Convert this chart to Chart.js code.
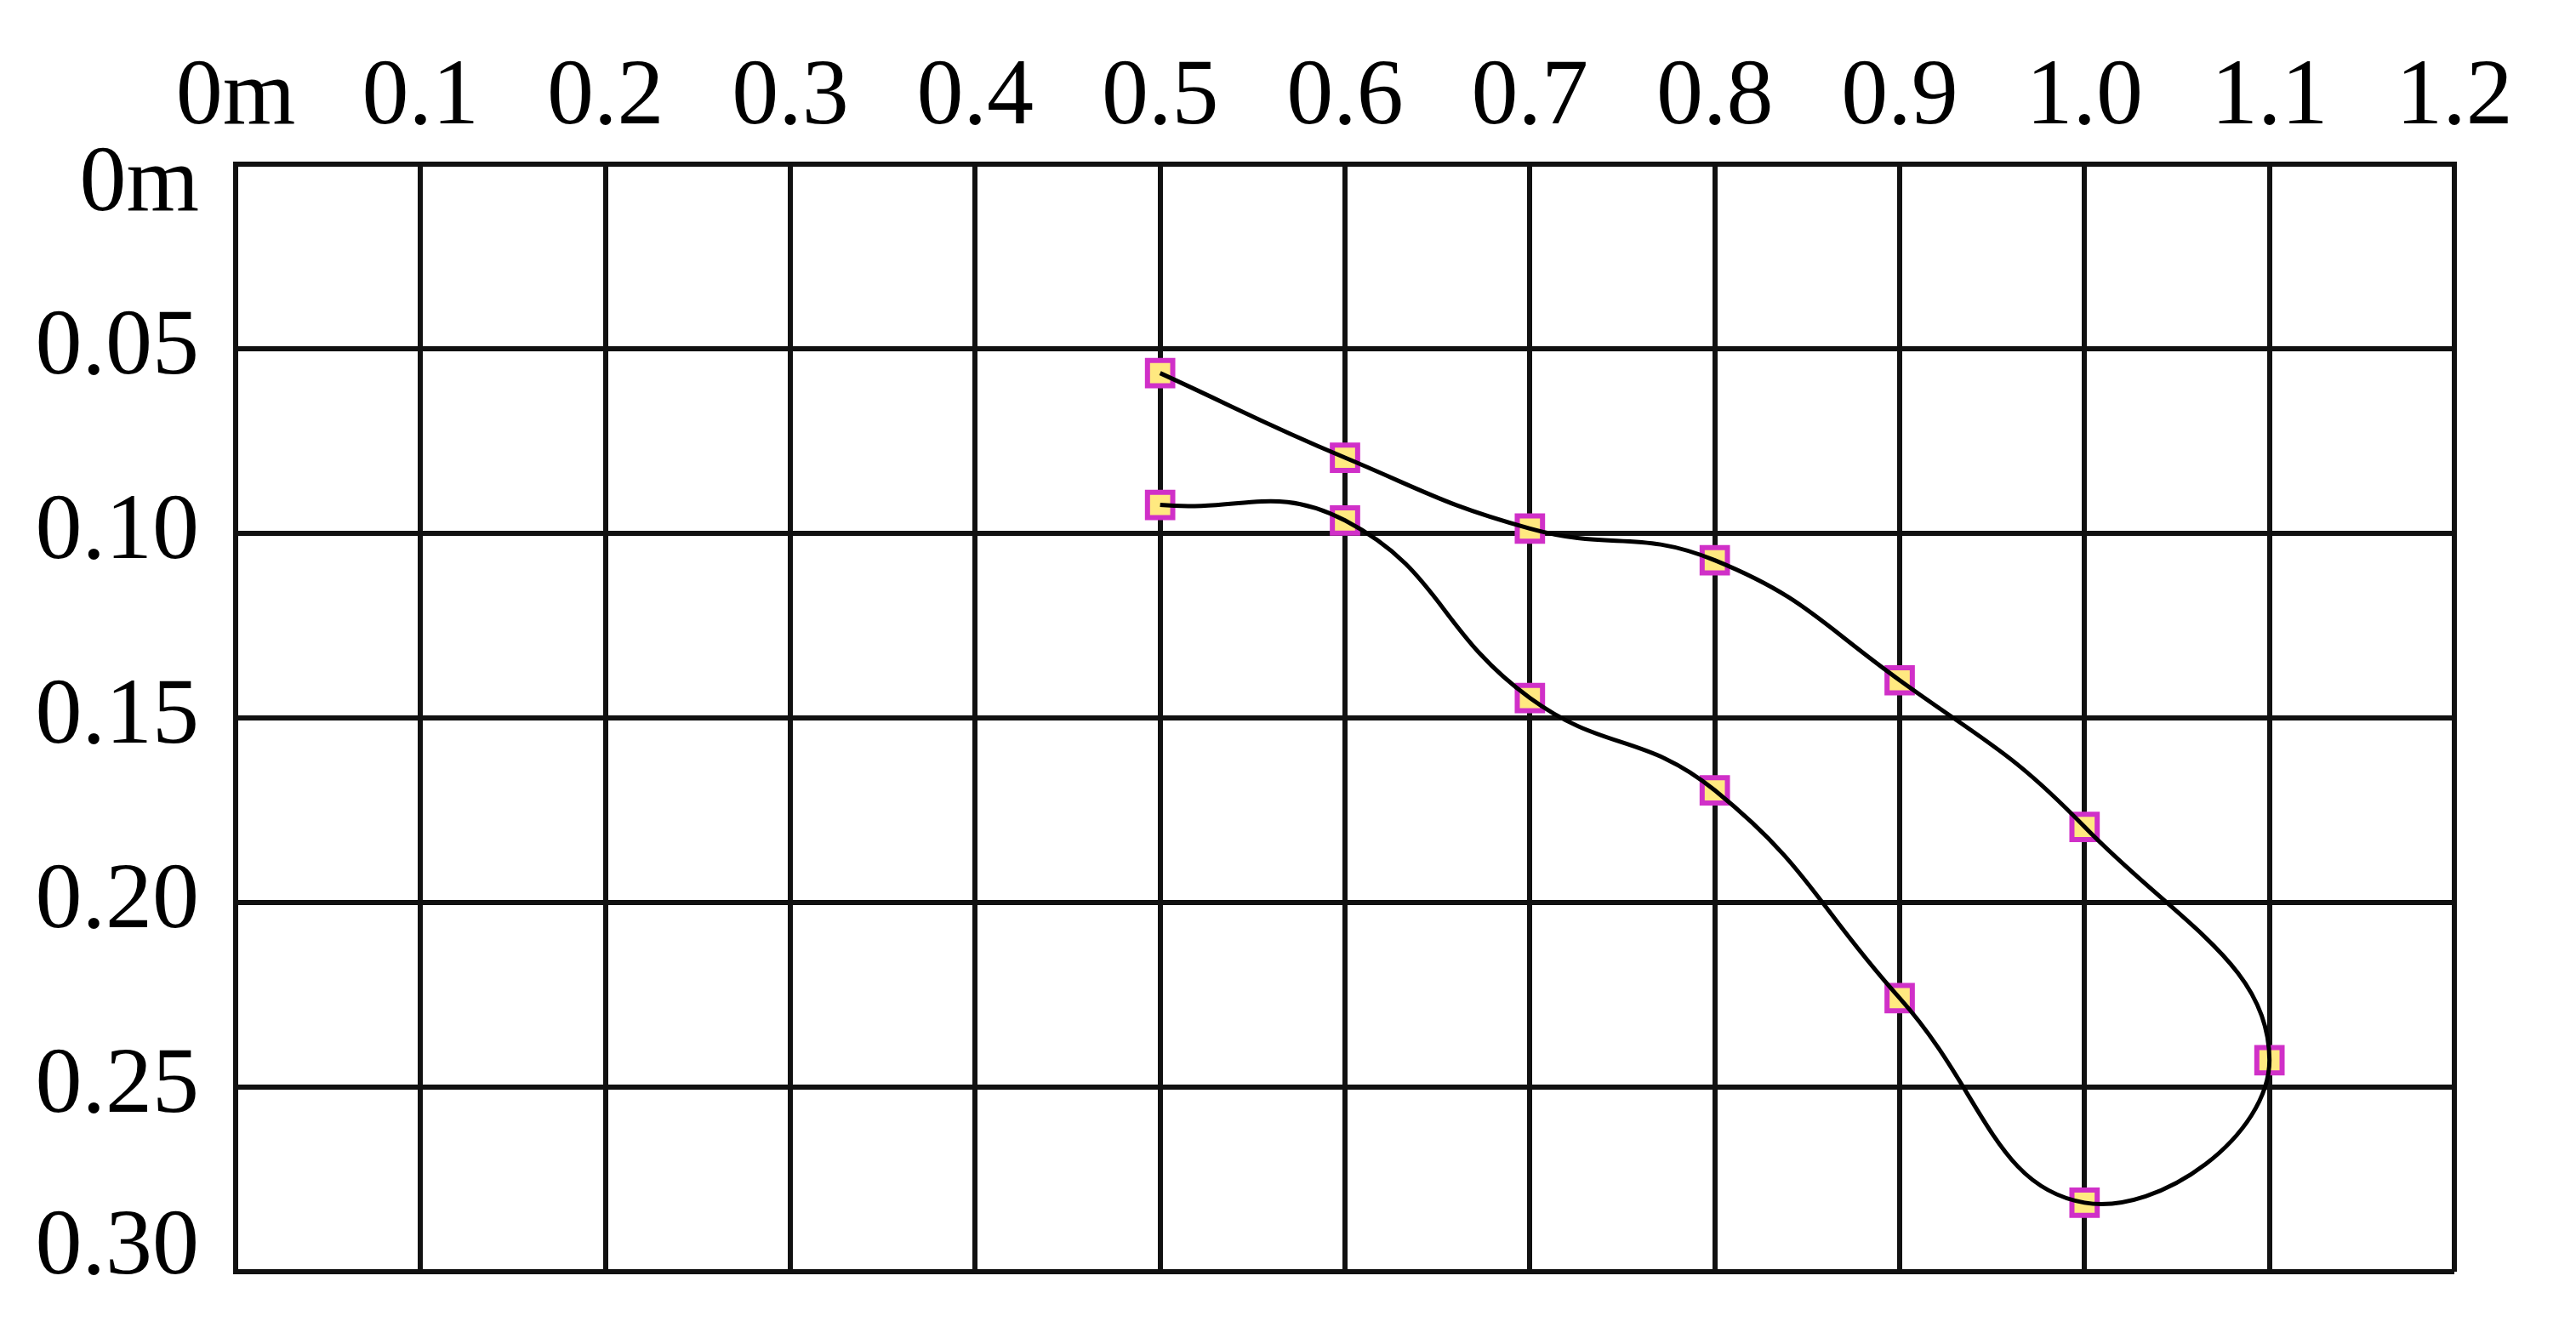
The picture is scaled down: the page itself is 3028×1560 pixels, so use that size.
<!DOCTYPE html>
<html>
<head>
<meta charset="utf-8">
<script src="https://cdn.jsdelivr.net/npm/chart.js@4/dist/chart.umd.min.js"></script>
<style>
  html, body { margin: 0; padding: 0; background: #fff; }
  #wrap { width: 3028px; height: 1560px; }
</style>
</head>
<body>
<div id="wrap">
  <canvas id="path-chart" width="3028" height="1560"></canvas>
</div>
<script>
  // tick labels
  const xTickLabels = ["0m", "0.1", "0.2", "0.3", "0.4", "0.5", "0.6", "0.7", "0.8", "0.9", "1.0", "1.1", "1.2"];
  const yTickLabels = ["0m", "0.05", "0.10", "0.15", "0.20", "0.25", "0.30"];

  // measured points, in the order the curve runs through them
  const pathX = [0.5, 0.6, 0.7, 0.8, 0.9, 1.0, 1.1, 1.0, 0.9, 0.8, 0.7, 0.6, 0.5];
  const pathY = [0.0566, 0.0795, 0.0987, 0.1073, 0.1398, 0.1795, 0.2427, 0.2813, 0.2259, 0.1696, 0.1446, 0.0965, 0.0923];

  const points = pathX.map((x, i) => ({ x: x, y: pathY[i] }));

  Chart.defaults.font.family = "'Liberation Serif', 'DejaVu Serif', serif";
  Chart.defaults.color = "#000";

  const gridColor = "#111";
  const lastY = yTickLabels.length - 1;

  // first and last y labels sit a little inside the plot, like the original
  function yLabel(v) {
    const i = Math.round(v / 0.05);
    if (i === 0) return ["", yTickLabels[i]];
    if (i === lastY) return [yTickLabels[i], ""];
    return yTickLabels[i];
  }
  function yFont(c) {
    const i = c.tick ? Math.round(c.tick.value / 0.05) : -1;
    if (i === 0) return { size: 110, lineHeight: "50px" };
    if (i === lastY) return { size: 110, lineHeight: "54px" };
    return { size: 110 };
  }

  var config = {
    type: "scatter",
    data: {
      datasets: [
        {
          label: "curve",
          data: points,
          showLine: true,
          tension: 0.45,
          borderColor: "#000",
          borderWidth: 5,
          pointRadius: 0,
          fill: false,
          order: 0,
        },
        {
          label: "points",
          data: points,
          showLine: false,
          pointStyle: "rect",
          pointRadius: 21,
          pointBorderWidth: 6,
          pointBackgroundColor: "#FFE980",
          pointBorderColor: "#D030C8",
          order: 1,
        },
      ],
    },
    options: {
      responsive: false,
      devicePixelRatio: 1,
      animation: false,
      layout: { padding: { top: 0, left: 0, right: 143, bottom: 65 } },
      plugins: {
        legend: { display: false },
        tooltip: { enabled: false },
      },
      scales: {
        x: {
          type: "linear",
          position: "top",
          min: 0,
          max: 1.2,
          afterFit: (s) => { s.height = 193; s.paddingLeft = 0; s.paddingRight = 0; },
          ticks: {
            stepSize: 0.1,
            padding: 11,
            font: { size: 110 },
            maxRotation: 0,
            autoSkip: false,
            callback: (v) => xTickLabels[Math.round(v * 10)],
          },
          grid: { color: gridColor, lineWidth: 6, drawTicks: false },
          border: { color: gridColor, width: 6 },
        },
        y: {
          type: "linear",
          reverse: true,
          min: 0,
          max: 0.3,
          afterFit: (s) => { s.width = 277; s.paddingTop = 0; s.paddingBottom = 0; },
          ticks: {
            stepSize: 0.05,
            padding: 43,
            font: yFont,
            autoSkip: false,
            callback: yLabel,
          },
          grid: { color: gridColor, lineWidth: 6, drawTicks: false },
          border: { color: gridColor, width: 6 },
        },
      },
    },
  };

  var ctx = document.getElementById("path-chart").getContext("2d");
  window.pathChart = new Chart(ctx, config);
</script>
</body>
</html>
